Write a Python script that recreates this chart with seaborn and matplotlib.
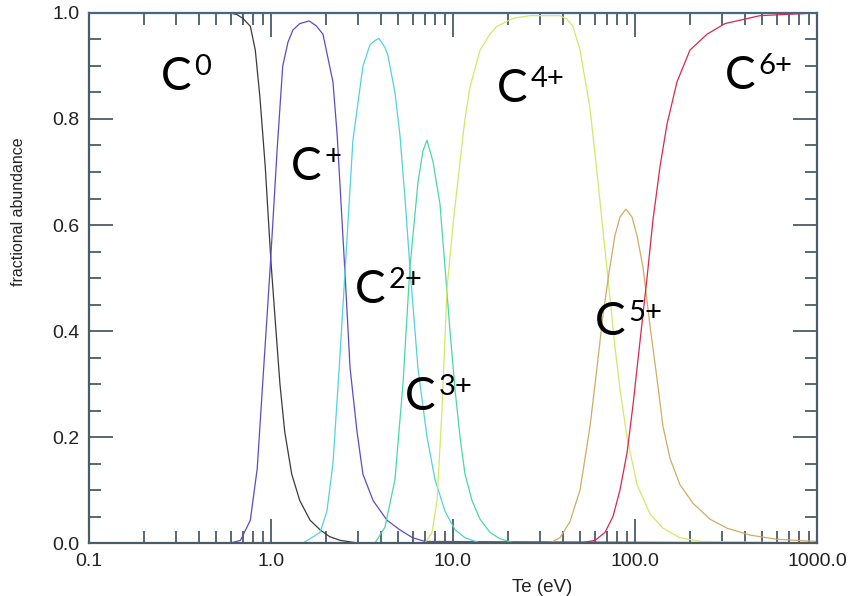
import matplotlib
matplotlib.use("Agg")
import matplotlib.pyplot as plt
import pandas as pd
import seaborn as sns
from matplotlib.ticker import FixedLocator, FixedFormatter, LogLocator, MultipleLocator, NullFormatter

# Carbon charge-state balance vs electron temperature.
ions = ["C0", "C+", "C2+", "C3+", "C4+", "C5+", "C6+"]
charges = ["0", "+", "2+", "3+", "4+", "5+", "6+"]

te_c0 = [0.1, 0.5, 0.6, 0.65, 0.70, 0.77, 0.82, 0.87, 0.93, 1.0, 1.05, 1.12, 1.19, 1.30, 1.44, 1.64, 1.86, 2.1, 2.4, 3.0, 1000]
ab_c0 = [1.0, 1.0, 1.0, 0.997, 0.99, 0.975, 0.93, 0.84, 0.71, 0.53, 0.43, 0.30, 0.21, 0.13, 0.08, 0.043, 0.025, 0.012, 0.005, 0.0, 0.0]

te_c1 = [0.1, 0.6, 0.68, 0.77, 0.84, 0.90, 0.99, 1.08, 1.16, 1.24, 1.32, 1.44, 1.62, 1.77, 1.93, 2.19, 2.31, 2.55, 2.72, 2.97, 3.2, 3.64, 4.34, 5.1, 6.0, 7.0, 1000]
ab_c1 = [0.0, 0.0, 0.005, 0.043, 0.14, 0.30, 0.52, 0.74, 0.90, 0.945, 0.968, 0.98, 0.985, 0.976, 0.96, 0.87, 0.77, 0.51, 0.33, 0.21, 0.13, 0.08, 0.043, 0.025, 0.01, 0.003, 0.0]

te_c2 = [0.1, 1.5, 1.86, 2.03, 2.19, 2.36, 2.55, 2.82, 3.20, 3.50, 3.73, 3.92, 4.23, 4.39, 4.80, 5.11, 5.45, 5.80, 6.42, 7.20, 7.96, 9.04, 10.26, 11.64, 14.08, 1000]
ab_c2 = [0.0, 0.0, 0.02, 0.06, 0.15, 0.32, 0.51, 0.76, 0.90, 0.94, 0.948, 0.952, 0.935, 0.92, 0.85, 0.77, 0.65, 0.52, 0.33, 0.20, 0.12, 0.06, 0.025, 0.01, 0.0, 0.0]

te_c3 = [0.1, 3.73, 4.23, 4.80, 5.31, 5.80, 6.42, 6.84, 7.20, 7.76, 8.48, 9.04, 9.63, 10.26, 10.93, 11.64, 12.72, 14.08, 15.97, 18.12, 21.9, 1000]
ab_c3 = [0.0, 0.0, 0.03, 0.12, 0.30, 0.52, 0.68, 0.74, 0.76, 0.72, 0.64, 0.52, 0.40, 0.29, 0.20, 0.13, 0.08, 0.045, 0.02, 0.008, 0.0, 0.0]

te_c4 = [0.1, 7.02, 7.67, 8.17, 8.70, 9.27, 10.0, 10.93, 11.64, 12.40, 14.08, 15.97, 17.45, 21.4, 26.5, 38.7, 42.4, 45.6, 49.9, 56.6, 61.8, 66.7, 72.0, 77.6, 82.7, 90.4, 102.6, 120.9, 142.5, 176.7, 227.6, 1000]
ab_c4 = [0.0, 0.0, 0.02, 0.08, 0.25, 0.48, 0.60, 0.72, 0.80, 0.86, 0.93, 0.96, 0.975, 0.99, 0.995, 0.995, 0.988, 0.975, 0.93, 0.82, 0.70, 0.59, 0.48, 0.37, 0.29, 0.20, 0.11, 0.055, 0.028, 0.01, 0.003, 0.0]

te_c5 = [0.1, 34.1, 38.7, 43.9, 49.9, 56.6, 61.8, 66.7, 72.0, 77.6, 82.7, 89.2, 96.3, 102.6, 110.7, 120.9, 132.1, 142.5, 155.7, 176.7, 208.3, 258.3, 320.3, 428.4, 602.9, 1000]
ab_c5 = [0.0, 0.0, 0.01, 0.04, 0.10, 0.22, 0.33, 0.43, 0.51, 0.58, 0.615, 0.63, 0.615, 0.58, 0.52, 0.41, 0.31, 0.22, 0.16, 0.11, 0.075, 0.045, 0.028, 0.015, 0.007, 0.003]

te_c6 = [0.1, 49.9, 60.3, 68.4, 75.7, 82.7, 90.4, 97.5, 106.5, 116.4, 125.6, 137.2, 149.9, 170.1, 200.5, 248.7, 312.3, 486.3, 1000]
ab_c6 = [0.0, 0.0, 0.005, 0.02, 0.05, 0.10, 0.17, 0.26, 0.38, 0.50, 0.61, 0.71, 0.79, 0.87, 0.93, 0.96, 0.98, 0.995, 1.0]

# where each "C^q" label sits (left edge, baseline)
label_te = [0.249, 1.29, 2.89, 5.45, 17.5, 60.3, 312]
label_ab = [0.855, 0.685, 0.453, 0.251, 0.832, 0.392, 0.857]

x_ticks = [0.1, 1, 10, 100, 1000]
x_ticklabels = ["0.1", "1.0", "10.0", "100.0", "1000.0"]

_COLORS = [
    "#3a3a3a",  # C0
    "#5a4cc8",  # C+
    "#52d2dc",  # C2+
    "#48d8a6",  # C3+
    "#d2e868",  # C4+
    "#d0ac62",  # C5+
    "#d8284f",  # C6+
]
_FRAME = "#4b5c68"
_LABEL_FONT = ["Lato", "DejaVu Sans"]

series = [(te_c0, ab_c0), (te_c1, ab_c1), (te_c2, ab_c2), (te_c3, ab_c3),
          (te_c4, ab_c4), (te_c5, ab_c5), (te_c6, ab_c6)]
df = pd.concat(
    [pd.DataFrame({"te": t, "abundance": a, "ion": name})
     for name, (t, a) in zip(ions, series)],
    ignore_index=True,
)

sns.set_style("ticks")
plt.rcParams["font.family"] = ["Liberation Sans", "DejaVu Sans"]

fig, ax = plt.subplots(figsize=(8.49, 5.96), dpi=100)
fig.subplots_adjust(left=0.1048, right=0.9623, bottom=0.0889, top=0.9782)

sns.lineplot(
    data=df, x="te", y="abundance", hue="ion", hue_order=ions,
    palette=_COLORS, estimator=None, legend=False, linewidth=0.9, ax=ax,
)

ax.set_xscale("log")
ax.set_xlim(0.1, 1000)
ax.set_ylim(0.0, 1.0)
ax.xaxis.set_major_locator(FixedLocator(x_ticks))
ax.xaxis.set_major_formatter(FixedFormatter(x_ticklabels))
ax.xaxis.set_minor_locator(LogLocator(base=10, subs=range(2, 10)))
ax.xaxis.set_minor_formatter(NullFormatter())
ax.yaxis.set_major_locator(MultipleLocator(0.2))
ax.yaxis.set_minor_locator(MultipleLocator(0.05))
ax.yaxis.set_major_formatter(plt.FormatStrFormatter("%.1f"))

ax.tick_params(which="both", direction="in", top=True, right=True,
               color=_FRAME, width=1.3, labelsize=14, labelcolor="#222222")
ax.tick_params(which="major", length=17, pad=7)
ax.tick_params(which="minor", length=8.5)

for side in ax.spines.values():
    side.set_color(_FRAME)
    side.set_linewidth(1.6)
ax.spines["top"].set_color("#48677e")

ax.set_xlabel("Te (eV)", fontsize=13.5, color="#222222")
ax.set_ylabel("fractional abundance", fontsize=11.5, color="#222222")
ax.xaxis.set_label_coords(0.622, -0.068)
ax.yaxis.set_label_coords(-0.086, 0.625)

for q, x, y in zip(charges, label_te, label_ab):
    ax.annotate("C", xy=(x, y), ha="left", va="baseline", fontsize=33,
                family=_LABEL_FONT, color="black")
    ax.annotate(q, xy=(x, y), xytext=(24, 10.5), textcoords="offset points",
                ha="left", va="baseline", fontsize=21,
                family=_LABEL_FONT, color="black")

fig.savefig("out.png", dpi=100)
plt.close(fig)
